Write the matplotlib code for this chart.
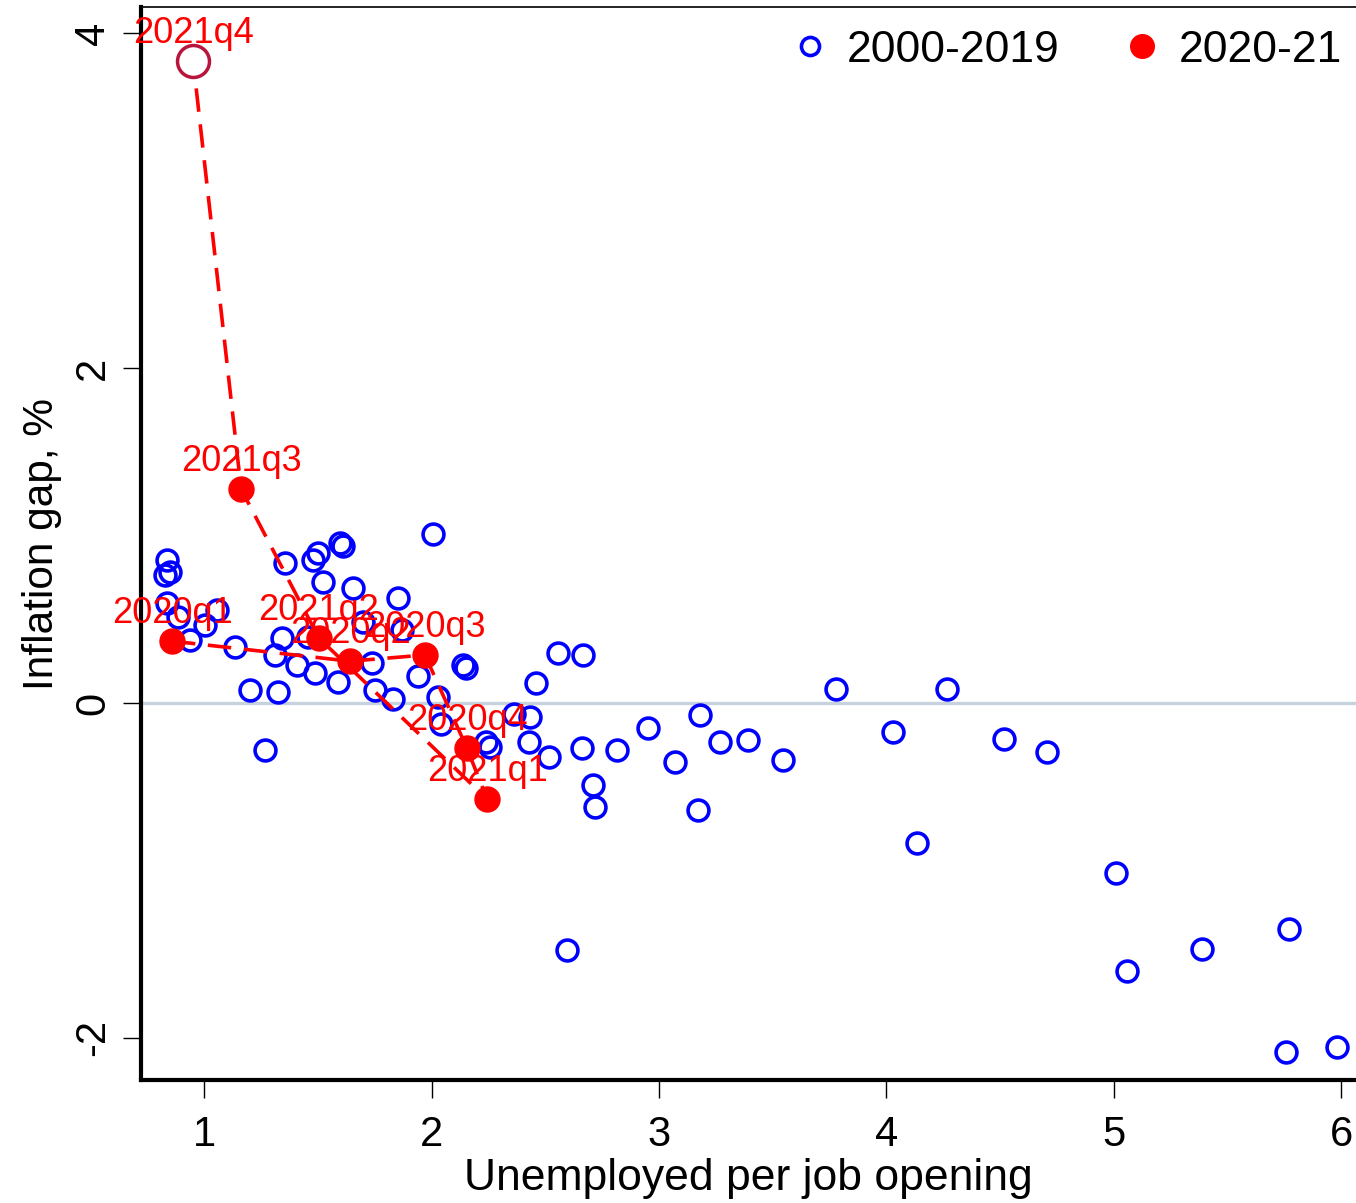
import matplotlib
matplotlib.use("Agg")
import matplotlib.pyplot as plt
from matplotlib.lines import Line2D

plt.rcParams["font.family"] = ["Liberation Sans", "DejaVu Sans"]

# ── Data: 2000-2019 quarters (unemployed per opening, inflation gap %) ──
x_hist = [0.837, 0.851, 0.829, 0.837, 0.886, 0.938, 1.004, 1.057, 1.136, 1.202,
          1.325, 1.268, 1.356, 1.343, 1.312, 1.409, 1.479, 1.501, 1.523, 1.598,
          1.611, 1.655, 1.853, 1.699, 1.457, 1.488, 1.589, 1.738, 1.752, 1.831,
          1.870, 1.941, 2.029, 2.042, 2.007, 2.138, 2.152, 2.240, 2.257, 2.363,
          2.433, 2.459, 2.556, 2.666, 2.429, 2.516, 2.662, 2.815, 2.710, 2.719,
          2.952, 3.070, 3.180, 3.268, 3.391, 3.545, 3.171, 2.596, 3.778, 4.029,
          4.266, 4.134, 4.516, 4.705, 5.009, 5.057, 5.387, 5.769, 5.756, 5.980]
y_hist = [0.854, 0.783, 0.765, 0.597, 0.514, 0.376, 0.466, 0.556, 0.335, 0.078,
          0.066, -0.281, 0.836, 0.388, 0.287, 0.227, 0.854, 0.896, 0.723, 0.956,
          0.938, 0.687, 0.627, 0.484, 0.394, 0.179, 0.125, 0.239, 0.078, 0.024,
          0.436, 0.161, 0.036, -0.125, 1.010, 0.227, 0.209, -0.233, -0.263, -0.066,
          -0.084, 0.119, 0.299, 0.287, -0.233, -0.323, -0.269, -0.281, -0.490, -0.621,
          -0.149, -0.352, -0.072, -0.233, -0.221, -0.341, -0.639, -1.476, 0.084, -0.173,
          0.084, -0.836, -0.215, -0.293, -1.016, -1.601, -1.470, -1.350, -2.085, -2.055]

# ── Data: 2020-21 quarters, in time order ──
q_labels = ["2020q1", "2020q2", "2020q3", "2020q4",
            "2021q1", "2021q2", "2021q3", "2021q4"]
x_pand = [0.859, 1.642, 1.971, 2.156, 2.244, 1.505, 1.163, 0.952]
y_pand = [0.370, 0.250, 0.287, -0.270, -0.573, 0.388, 1.278, 3.835]

BLUE = "#0000ff"
RED = "#ff0000"
CRIMSON = "#b8143c"
ZERO = "#c6d2dd"

fig = plt.figure(figsize=(13.56, 12.03), dpi=100, facecolor="white")
ax = fig.add_axes([0.104, 0.1022, 0.896, 0.892])

ax.axhline(0, color=ZERO, lw=2.4, zorder=1)

ax.plot(x_hist, y_hist, "o", ls="none", ms=15, mfc="none", mec=BLUE,
        mew=2.6, zorder=3)

# dashed path through the pandemic quarters
ax.plot(x_pand, y_pand, color=RED, lw=2.6, dashes=(6.5, 3.5), zorder=4)
ax.plot(x_pand[:-1], y_pand[:-1], "o", ls="none", ms=18, color=RED, zorder=5)
ax.plot(x_pand[-1:], y_pand[-1:], "o", ls="none", ms=23, mfc="white",
        mec=CRIMSON, mew=2.5, zorder=5)

for lab, xv, yv in zip(q_labels, x_pand, y_pand):
    ax.annotate(lab, (xv, yv), xytext=(0, 13), textcoords="offset points",
                ha="center", va="baseline", color=RED, fontsize=26, zorder=6)

ax.set_xlim(0.723, 6.064)
ax.set_ylim(-2.252, 4.158)
ax.set_xticks([1, 2, 3, 4, 5, 6])
ax.set_yticks([-2, 0, 2, 4])
ax.set_yticklabels(["-2", "0", "2", "4"], rotation=90, va="center")

ax.tick_params(axis="both", direction="out", length=13, width=1.0,
               labelsize=30, color="black")
ax.tick_params(axis="x", pad=12)
ax.tick_params(axis="y", pad=7)

for side in ["left", "bottom"]:
    ax.spines[side].set_linewidth(3.0)
ax.spines["top"].set_linewidth(1.2)
ax.spines["right"].set_visible(False)

ax.set_xlabel("Unemployed per job opening", fontsize=32, labelpad=2)
ax.set_ylabel("Inflation gap, %", fontsize=30.5, labelpad=8)

handles = [
    Line2D([], [], marker="o", ls="none", ms=13, mfc="none", mec=BLUE, mew=2.6),
    Line2D([], [], marker="o", ls="none", ms=17, color=RED),
]
ax.legend(handles, ["2000-2019", "2020-21"], loc="center right",
          bbox_to_anchor=(0.990, 0.958), bbox_transform=fig.transFigure,
          ncol=2, frameon=False, fontsize=32, handlelength=0.8,
          handletextpad=0.44, columnspacing=1.45, borderpad=0, borderaxespad=0)

fig.savefig("out.png", dpi=100, facecolor="white")
